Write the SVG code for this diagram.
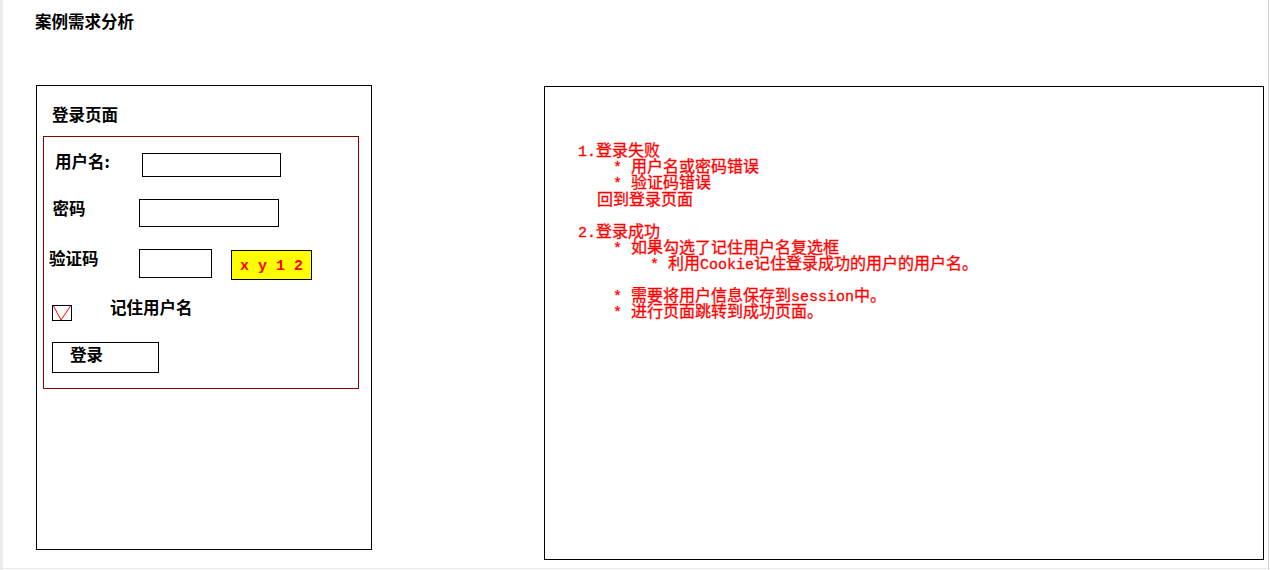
<svg xmlns="http://www.w3.org/2000/svg" width="1270" height="570" viewBox="0 0 1270 570">
<style>
.box{fill:#fff;stroke:#000;stroke-width:1}
.lbl{font-family:"Noto Sans CJK SC","Liberation Sans",sans-serif;font-size:16.5px;fill:#000;font-weight:bold}
.red{font-family:"Noto Sans CJK SC","Liberation Mono",monospace;font-size:16px;fill:#f00;stroke:#f00;stroke-width:0.3}
.asc{font-family:"Liberation Mono",monospace;font-size:15px}
</style>
<rect x="0" y="0" width="1270" height="570" fill="#fff"/>
<rect x="0" y="0" width="3" height="570" fill="#ececec"/>
<line x1="1268.5" y1="0" x2="1268.5" y2="570" stroke="#d4d4d4"/>
<line x1="0" y1="568.5" x2="1270" y2="568.5" stroke="#e8e8e8"/>

<g id="title"><text class="lbl" x="35" y="27.5">案例需求分析</text></g>

<g id="login-page">
<rect class="box" x="36.5" y="85.5" width="335" height="464"/>
<text class="lbl" x="52" y="121">登录页面</text>
</g>

<g id="login-form">
<rect x="43.5" y="136.5" width="315" height="252" fill="none" stroke="#8b0000"/>
<g id="username"><text class="lbl" x="55" y="168">用户名:</text><rect class="box" x="142.5" y="153.5" width="138" height="23"/></g>
<g id="password"><text class="lbl" x="52.5" y="215">密码</text><rect class="box" x="139.5" y="199.5" width="139" height="27"/></g>
<g id="captcha"><text class="lbl" x="49" y="265">验证码</text><rect class="box" x="139.5" y="249.5" width="72" height="28"/>
<rect x="231.5" y="250.5" width="80" height="29" fill="#ff0" stroke="#000"/>
<text x="240" y="270" font-family="Liberation Mono,monospace" font-size="15" font-weight="bold" fill="#f00">x y 1 2</text></g>
<g id="remember"><rect class="box" x="52.5" y="305.5" width="19" height="15"/>
<polyline points="53.5,306 61,320 70.5,306" fill="none" stroke="#f00" stroke-width="1"/>
<text class="lbl" x="110" y="313.5">记住用户名</text></g>
<g id="login-btn"><rect class="box" x="52.5" y="342.5" width="106" height="30"/><text class="lbl" x="70" y="361">登录</text></g>
</g>

<g id="analysis">
<rect class="box" x="544.5" y="86.5" width="719" height="473"/>
<text class="red" x="578" y="156"><tspan class="asc">1.</tspan>登录失败</text>
<text class="red" x="613" y="172"><tspan class="asc">* </tspan>用户名或密码错误</text>
<text class="red" x="613" y="188"><tspan class="asc">* </tspan>验证码错误</text>
<text class="red" x="597" y="204.5">回到登录页面</text>
<text class="red" x="578" y="236.5"><tspan class="asc">2.</tspan>登录成功</text>
<text class="red" x="613" y="252.5"><tspan class="asc">* </tspan>如果勾选了记住用户名复选框</text>
<text class="red" x="650" y="268.5"><tspan class="asc">* </tspan>利用<tspan class="asc">Cookie</tspan>记住登录成功的用户的用户名。</text>
<text class="red" x="613" y="300.5"><tspan class="asc">* </tspan>需要将用户信息保存到<tspan class="asc">session</tspan>中。</text>
<text class="red" x="613" y="316.5"><tspan class="asc">* </tspan>进行页面跳转到成功页面。</text>
</g>
</svg>
